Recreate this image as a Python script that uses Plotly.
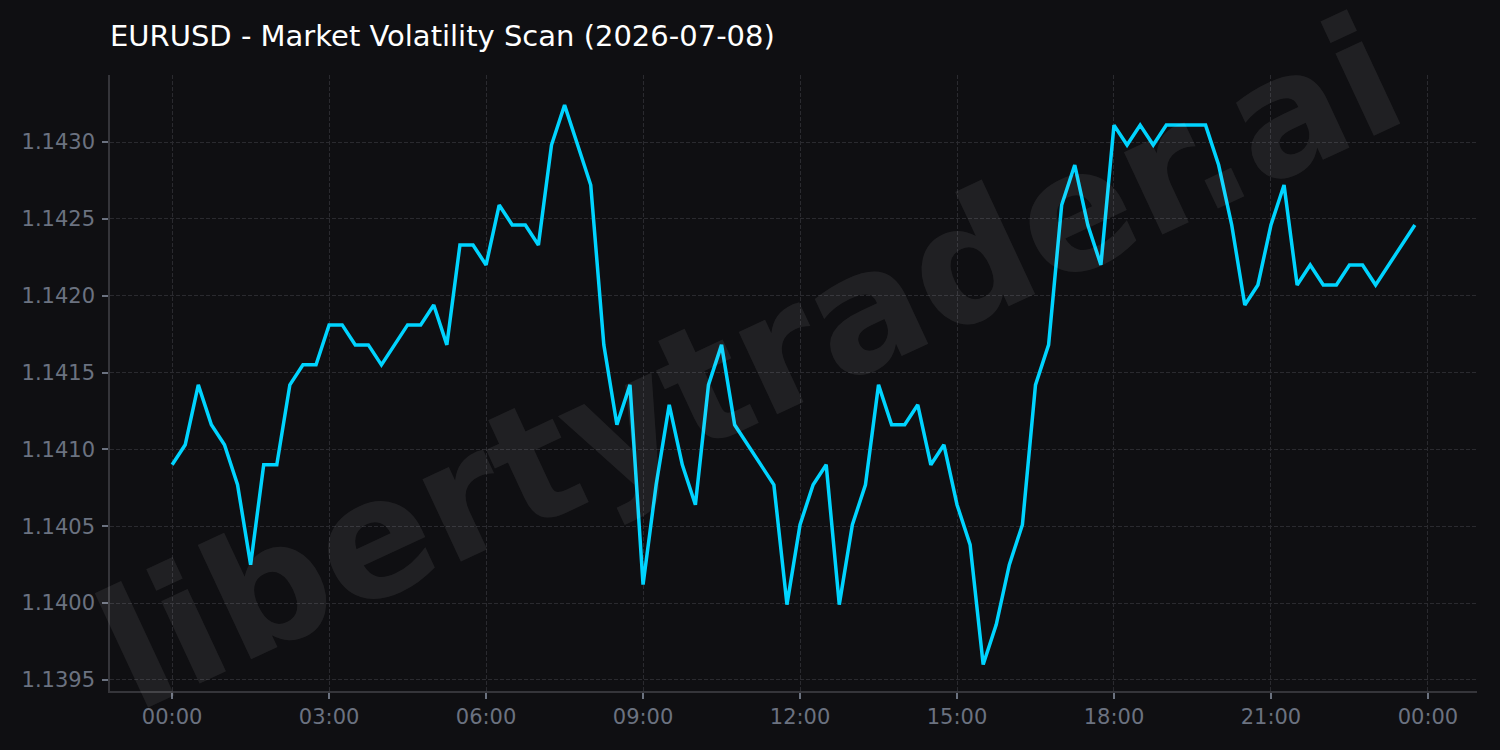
import pandas as pd
import plotly.graph_objects as go

# ---- data ----
start_time = "2026-07-08 00:00"
n_points = 96
times = pd.date_range(start_time, periods=n_points, freq="15min")

prices = [
    1.14090, 1.14103, 1.14142, 1.14116, 1.14103, 1.14077, 1.14025, 1.14090,
    1.14090, 1.14142, 1.14155, 1.14155, 1.14181, 1.14181, 1.14168, 1.14168,
    1.14155, 1.14168, 1.14181, 1.14181, 1.14194, 1.14168, 1.14233, 1.14233,
    1.14220, 1.14259, 1.14246, 1.14246, 1.14233, 1.14298, 1.14324, 1.14298,
    1.14272, 1.14168, 1.14116, 1.14142, 1.14012, 1.14077, 1.14129, 1.14090,
    1.14064, 1.14142, 1.14168, 1.14116, 1.14103, 1.14090, 1.14077, 1.13999,
    1.14051, 1.14077, 1.14090, 1.13999, 1.14051, 1.14077, 1.14142, 1.14116,
    1.14116, 1.14129, 1.14090, 1.14103, 1.14064, 1.14038, 1.13960, 1.13986,
    1.14025, 1.14051, 1.14142, 1.14168, 1.14259, 1.14285, 1.14246, 1.14220,
    1.14311, 1.14298, 1.14311, 1.14298, 1.14311, 1.14311, 1.14311, 1.14311,
    1.14285, 1.14246, 1.14194, 1.14207, 1.14246, 1.14272, 1.14207, 1.14220,
    1.14207, 1.14207, 1.14220, 1.14220, 1.14207, 1.14220, 1.14233, 1.14246,
]

title_text = "EURUSD - Market Volatility Scan (2026-07-08)"
watermark_text = "libertytrader.ai"
x_tick_vals = pd.date_range("2026-07-08 00:00", "2026-07-09 00:00", freq="3h")
x_tick_text = [t.strftime("%H:%M") for t in x_tick_vals]
y_tick_vals = [1.1395, 1.1400, 1.1405, 1.1410, 1.1415, 1.1420, 1.1425, 1.1430]
y_tick_text = ["%.4f" % v for v in y_tick_vals]
y_range = [1.139428, 1.143436]

# ---- style ----
BG = "#0f0f12"
LINE = "#00d4ff"
TICK = "#6b7280"
GRID = "#2a2a2f"
SPINE = "#35353a"

span = times[-1] - times[0]
pad = span * 0.05
x_range = [times[0] - pad, times[-1] + pad]

fig = go.Figure()
fig.add_trace(go.Scatter(
    x=times, y=prices, mode="lines",
    line=dict(color=LINE, width=3.5),
    showlegend=False, hoverinfo="x+y",
))

fig.update_layout(
    width=1500, height=750,
    paper_bgcolor=BG, plot_bgcolor=BG,
    margin=dict(l=110, r=23, t=75, b=59),
    title=dict(
        text=title_text,
        font=dict(family="DejaVu Sans", size=29, color="#ffffff"),
        x=110 / 1500, xanchor="left", xref="container",
        y=1 - 36 / 750, yanchor="middle", yref="container",
    ),
    font=dict(family="DejaVu Sans"),
    annotations=[dict(
        text=watermark_text, showarrow=False,
        xref="paper", yref="paper", x=0.468, y=0.532,
        xanchor="center", yanchor="middle",
        textangle=-25,
        font=dict(family="DejaVu Sans", size=166, color="rgba(255,255,255,0.075)", weight="bold"),
    )],
)

fig.update_xaxes(
    range=x_range, type="date",
    tickvals=list(x_tick_vals), ticktext=x_tick_text,
    tickfont=dict(family="DejaVu Sans", size=21, color=TICK),
    ticks="outside", ticklen=6, tickwidth=1.5, tickcolor=TICK,
    showline=True, linecolor=SPINE, linewidth=1.5, mirror=False,
    showgrid=True, gridcolor=GRID, gridwidth=1, griddash="4px,2px",
    zeroline=False,
)
fig.update_yaxes(
    range=y_range,
    tickvals=y_tick_vals, ticktext=y_tick_text,
    tickfont=dict(family="DejaVu Sans", size=21, color=TICK),
    ticks="outside", ticklen=6, tickwidth=1.5, tickcolor=TICK,
    ticklabelstandoff=3,
    showline=True, linecolor=SPINE, linewidth=1.5, mirror=False,
    showgrid=True, gridcolor=GRID, gridwidth=1, griddash="4px,2px",
    zeroline=False,
)

fig.write_html("out.html")
